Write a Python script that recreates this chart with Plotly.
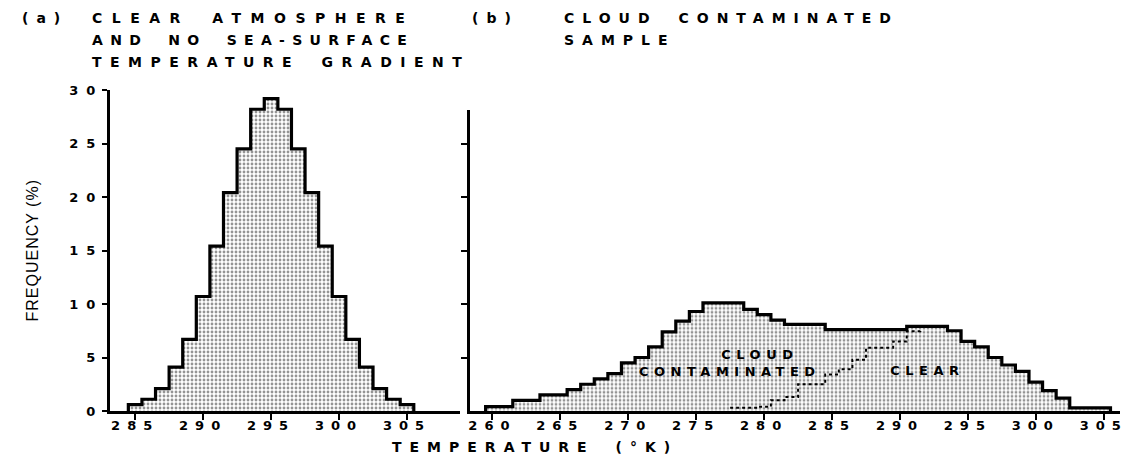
import plotly.graph_objects as go

# ---------------- data ----------------
temp_a = list(range(285, 306))
freq_a = [0.6, 1.1, 2.1, 4.1, 6.7, 10.7, 15.4, 20.4, 24.5, 28.2, 29.2,
          28.2, 24.5, 20.4, 15.4, 10.7, 6.7, 4.1, 2.1, 1.1, 0.6]

temp_b = list(range(260, 306))
freq_b = [0.4, 0.4, 1.0, 1.0, 1.5, 1.5, 2.0, 2.5, 3.0, 3.5,
          4.5, 5.0, 6.0, 7.4, 8.4, 9.3, 10.1, 10.1, 10.1, 9.5,
          9.0, 8.5, 8.1, 8.1, 8.1, 7.6, 7.6, 7.6, 7.6, 7.6,
          7.6, 7.9, 7.9, 7.9, 7.5, 6.5, 6.0, 5.0, 4.3, 3.7,
          2.7, 1.9, 1.2, 0.3, 0.3, 0.3]

temp_clear = list(range(278, 293))
freq_clear = [0.3, 0.3, 0.4, 1.0, 1.3, 2.5, 2.5, 3.4, 3.9, 4.8,
              5.9, 5.9, 6.5, 7.45, 7.9]

ticks_a = [285, 290, 295, 300, 305]
ticks_b = [260, 265, 270, 275, 280, 285, 290, 295, 300, 305]
ticks_y = [0, 5, 10, 15, 20, 25, 30]
ticks_y_b = [5, 10, 15, 20, 25]


def closed_steps(centers, values):
    xs = [centers[0] - 0.5]
    ys = [0]
    for c, v in zip(centers, values):
        xs.append(c - 0.5)
        ys.append(v)
    xs.append(centers[-1] + 0.5)
    ys.append(0)
    return xs, ys


def open_steps(centers, values):
    xs = [c - 0.5 for c in centers] + [centers[-1] + 0.5]
    ys = list(values) + [values[-1]]
    return xs, ys


pattern = dict(shape=".", fgcolor="#2a2a2a", bgcolor="white", size=4, solidity=0.4)

fig = go.Figure()
xa, ya = closed_steps(temp_a, freq_a)
fig.add_trace(go.Scatter(x=xa, y=ya, mode="lines", line=dict(color="black", width=3.2, shape="hv"),
                         fill="tozeroy", fillcolor="rgba(0,0,0,0)", fillpattern=pattern,
                         xaxis="x", yaxis="y", hoverinfo="skip"))
xb, yb = closed_steps(temp_b, freq_b)
fig.add_trace(go.Scatter(x=xb, y=yb, mode="lines", line=dict(color="black", width=3.2, shape="hv"),
                         fill="tozeroy", fillcolor="rgba(0,0,0,0)", fillpattern=pattern,
                         xaxis="x2", yaxis="y2", hoverinfo="skip"))
xc, yc = open_steps(temp_clear, freq_clear)
fig.add_trace(go.Scatter(x=xc, y=yc, mode="lines", line=dict(color="black", width=2, shape="hv", dash="dot"),
                         xaxis="x2", yaxis="y2", hoverinfo="skip"))

W, H = 1133, 472
L, R, T, B = 110, 13, 90, 61
pw = W - L - R
ph = H - T - B

tickfont = dict(family="DejaVu Sans", size=13, color="black", weight="bold")
common_x = dict(showgrid=False, zeroline=False, showline=True, linewidth=3, linecolor="black",
                ticks="outside", ticklen=6, tickwidth=2, tickcolor="black", tickfont=tickfont,
                ticklabelstandoff=-6)

fig.update_layout(
    width=W, height=H,
    margin=dict(l=L, r=R, t=T, b=B),
    paper_bgcolor="white", plot_bgcolor="white",
    showlegend=False,
    xaxis=dict(domain=[0, 350 / pw], range=[283.15, 308.9], tickvals=ticks_a, anchor="y", **common_x),
    xaxis2=dict(domain=[360 / pw, 1], range=[258.35, 306.2], tickvals=ticks_b, anchor="y2", **common_x),
    yaxis=dict(domain=[0, 1], range=[0, 30], tickvals=ticks_y, anchor="x", showgrid=False, zeroline=False,
               showline=True, linewidth=3, linecolor="black", ticks="outside", ticklen=5, tickwidth=2,
               tickcolor="black", tickfont=tickfont, ticklabelstandoff=-4),
    yaxis3=dict(overlaying="y", range=[0, 30], tickvals=ticks_y[1:-1], anchor="x", showgrid=False,
                zeroline=False, showline=False, ticks="inside", ticklen=5, tickwidth=2, tickcolor="black",
                showticklabels=False),
    yaxis2=dict(domain=[0, 28.1 / 30], range=[0, 28.1], tickvals=ticks_y_b, anchor="x2", showgrid=False,
                zeroline=False, showline=True, linewidth=3, linecolor="black", ticks="outside", ticklen=6,
                tickwidth=2, tickcolor="black", showticklabels=False),
    yaxis4=dict(overlaying="y2", range=[0, 28.1], tickvals=ticks_y_b, anchor="x2", showgrid=False,
                zeroline=False, showline=False, ticks="inside", ticklen=6, tickwidth=2, tickcolor="black",
                showticklabels=False),
)


def px(xp):
    return (xp - L) / pw


def py(yp):
    return (H - B - yp) / ph


title_font = dict(family="DejaVu Sans", size=14, color="black", weight="bold")
anns = [
    ("(a)", 20, 18), ("CLEAR ATMOSPHERE", 90, 18), ("AND NO SEA-SURFACE", 90, 40),
    ("TEMPERATURE GRADIENT", 90, 62),
    ("(b)", 470, 18), ("CLOUD CONTAMINATED", 562, 18), ("SAMPLE", 562, 40),
]
for txt, xx, yy in anns:
    fig.add_annotation(text=txt, x=px(xx), y=py(yy), xref="paper", yref="paper", xanchor="left",
                       yanchor="middle", align="left", showarrow=False, font=title_font)

lab_font = dict(family="DejaVu Sans", size=13, color="black", weight="bold")
fig.add_annotation(text="CLOUD", x=279.7, y=5.3, xref="x2", yref="y2", showarrow=False, font=lab_font)
fig.add_annotation(text="CONTAMINATED", x=277.5, y=3.7, xref="x2", yref="y2", showarrow=False, font=lab_font)
fig.add_annotation(text="CLEAR", x=292.0, y=3.8, xref="x2", yref="y2", showarrow=False, font=lab_font)

fig.add_annotation(text="TEMPERATURE (°K)", x=px(535), y=py(447), xref="paper", yref="paper",
                   xanchor="center", yanchor="middle", showarrow=False, font=title_font)
fig.add_annotation(text="FREQUENCY (%)", x=px(32), y=py(250), xref="paper", yref="paper",
                   xanchor="center", yanchor="middle", showarrow=False, textangle=-90,
                   font=dict(family="Liberation Sans", size=16, color="black"))

post = """
(function(){
  document.body.style.margin = '0';
  var gd = document.getElementById('{plot_id}');
  var spacing = {
    'CLEAR ATMOSPHERE': 9.5, 'AND NO SEA-SURFACE': 7.3, 'TEMPERATURE GRADIENT': 8.5,
    'CLOUD CONTAMINATED': 8, 'SAMPLE': 8, '(a)': 8, '(b)': 8, 'TEMPERATURE (°K)': 8,
    'CLOUD': 5.5, 'CONTAMINATED': 5.5, 'CLEAR': 5.5, 'FREQUENCY (%)': 1
  };
  function apply(){
    gd.querySelectorAll('.xaxislayer-above text').forEach(function(t){
      t.style.letterSpacing='7px';
    });
    gd.querySelectorAll('.yaxislayer-above text').forEach(function(t){
      t.style.letterSpacing='8px';
    });
    gd.querySelectorAll('.annotation-text').forEach(function(t){
      var s = t.textContent;
      var v = spacing[s];
      if (v === undefined) v = 8;
      t.style.letterSpacing = v + 'px';
      if (v > 6) t.style.wordSpacing = '8px';
    });
  }
  apply();
  if (gd.on) gd.on('plotly_afterplot', apply);
  setTimeout(apply, 30);
})();
"""
fig.write_html("out.html", post_script=post, config={"displayModeBar": False})
